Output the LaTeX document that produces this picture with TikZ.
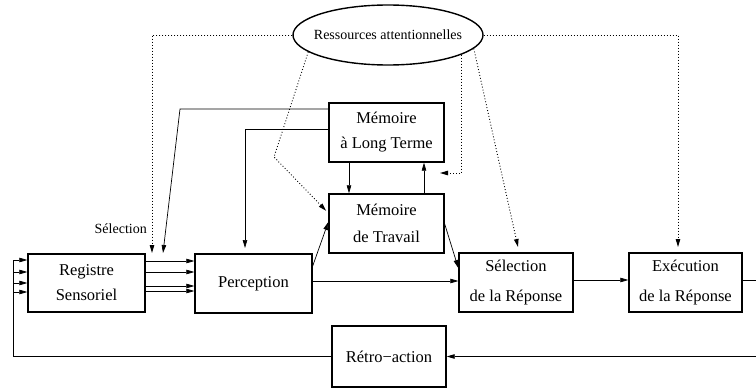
\documentclass[tikz,border=0pt]{standalone}
\usepackage{fontspec}
\setmainfont{Liberation Serif}
\usetikzlibrary{arrows.meta,shapes.geometric,calc}
\begin{document}
\begin{tikzpicture}[x=1pt,y=-1pt,
  box/.style={draw,line width=1.4pt,rectangle,inner sep=0pt,align=center,font=\fontsize{16.5}{25}\selectfont},
  widebox/.style={box,font=\fontsize{16.5}{30}\selectfont},
  conn/.style={line width=0.7pt},
  arr/.style={conn,-{Triangle[length=8pt,width=4.5pt]}},
  dots/.style={line width=0.9pt,dash pattern=on 0.9pt off 2.1pt},
  darr/.style={dots,-{Triangle[length=8pt,width=4.5pt]}},
  small/.style={font=\fontsize{14}{17}\selectfont}]
\useasboundingbox (0,0) rectangle (756,391);

% nodes
\node[ellipse,draw,line width=1.4pt,minimum width=190pt,minimum height=60pt,inner sep=0pt,small] (ell) at (388,35) {\makebox[0pt]{Ressources attentionnelles}};
\node[box,minimum width=117pt,minimum height=58pt] (reg) at (86.5,283) {Registre\\Sensoriel};
\node[box,minimum width=117pt,minimum height=59pt] (perc) at (253.5,283.5) {Perception};
\node[box,minimum width=115pt,minimum height=59pt] (mlt) at (386.5,132.5) {Mémoire\\à Long Terme};
\node[box,minimum width=115pt,minimum height=59pt,font=\fontsize{16.5}{27}\selectfont] (mdt) at (386.5,223.5) {Mémoire\\de Travail};
\node[widebox,minimum width=114pt,minimum height=59pt] (sel) at (516,282.5) {Sélection\\de la Réponse};
\node[widebox,minimum width=113pt,minimum height=59pt] (exe) at (685.5,282.5) {Exécution\\de la Réponse};
\node[box,minimum width=114pt,minimum height=61pt] (retro) at (389,356.5) {Rétro−action};
\node[small,anchor=east,inner sep=0pt] (sellab) at (147,229) {Sélection};

% registre -> perception
\foreach \yy in {261,272,286,291} {
  \coordinate (t) at (0,\yy);
  \draw[arr] (reg.east |- t) -- (perc.west |- t);
}
% inputs from feedback
\coordinate (inx) at (13,260);
\draw[conn] (retro.west) -| (inx);
\foreach \yy in {260,272,283,292} {
  \coordinate (t) at (13,\yy);
  \draw[arr] (t) -- (reg.west |- t);
}
% feedback loop
\coordinate (fbx) at (764,0);
\coordinate (r280) at (0,280);
\coordinate (r281) at (0,281);
\draw[arr] (exe.east |- r280) -- (fbx |- r280) |- (retro.east);
% perception -> selection, selection -> execution
\draw[arr] (perc.east |- r281) -- (sel.west |- r281);
\draw[arr] (sel.east |- r280) -- (exe.west |- r280);
% MLT -> registre channels
\coordinate (k1) at (180,109); \coordinate (k2) at (163,253);
\draw[arr] (mlt.west |- k1) -- (k1) -- (k2);
% MLT -> perception
\coordinate (k3) at (245,129); \coordinate (k4) at (245,248);
\draw[arr] (mlt.west |- k3) -- (k3) -- (k4);
% perception -> MdT
\coordinate (k5) at (0,266); \coordinate (k6) at (0,222);
\draw[arr] (perc.east |- k5) -- (mdt.west |- k6);
% MdT -> selection
\coordinate (k7) at (0,224); \coordinate (k8) at (0,268);
\draw[arr] (mdt.east |- k7) -- (sel.west |- k8);
% MLT <-> MdT
\coordinate (k9) at (349,0); \coordinate (k10) at (424,0);
\draw[arr] (mlt.south -| k9) -- (mdt.north -| k9);
\draw[arr] (mdt.north -| k10) -- (mlt.south -| k10);

% dotted attention lines
\coordinate (d1) at (152,35); \coordinate (d2) at (152,253);
\draw[darr] (ell.west) -- (d1) -- (d2);
\coordinate (d3) at (274,157); \coordinate (d4) at (0,213);
\draw[darr,shorten >=3pt] (ell.192) -- (d3) -- (mdt.west |- d4);
\coordinate (d5) at (0,173); \coordinate (d6) at (440,173);
\draw[darr] (ell.-15.5) -- (ell.-15.5 |- d5) -- (d6);
\coordinate (d7) at (518,247);
\draw[darr] (ell.-9.5) -- (d7);
\coordinate (d8) at (678,35); \coordinate (d9) at (678,247);
\draw[darr] (ell.east) -- (d8) -- (d9);
\end{tikzpicture}
\end{document}
